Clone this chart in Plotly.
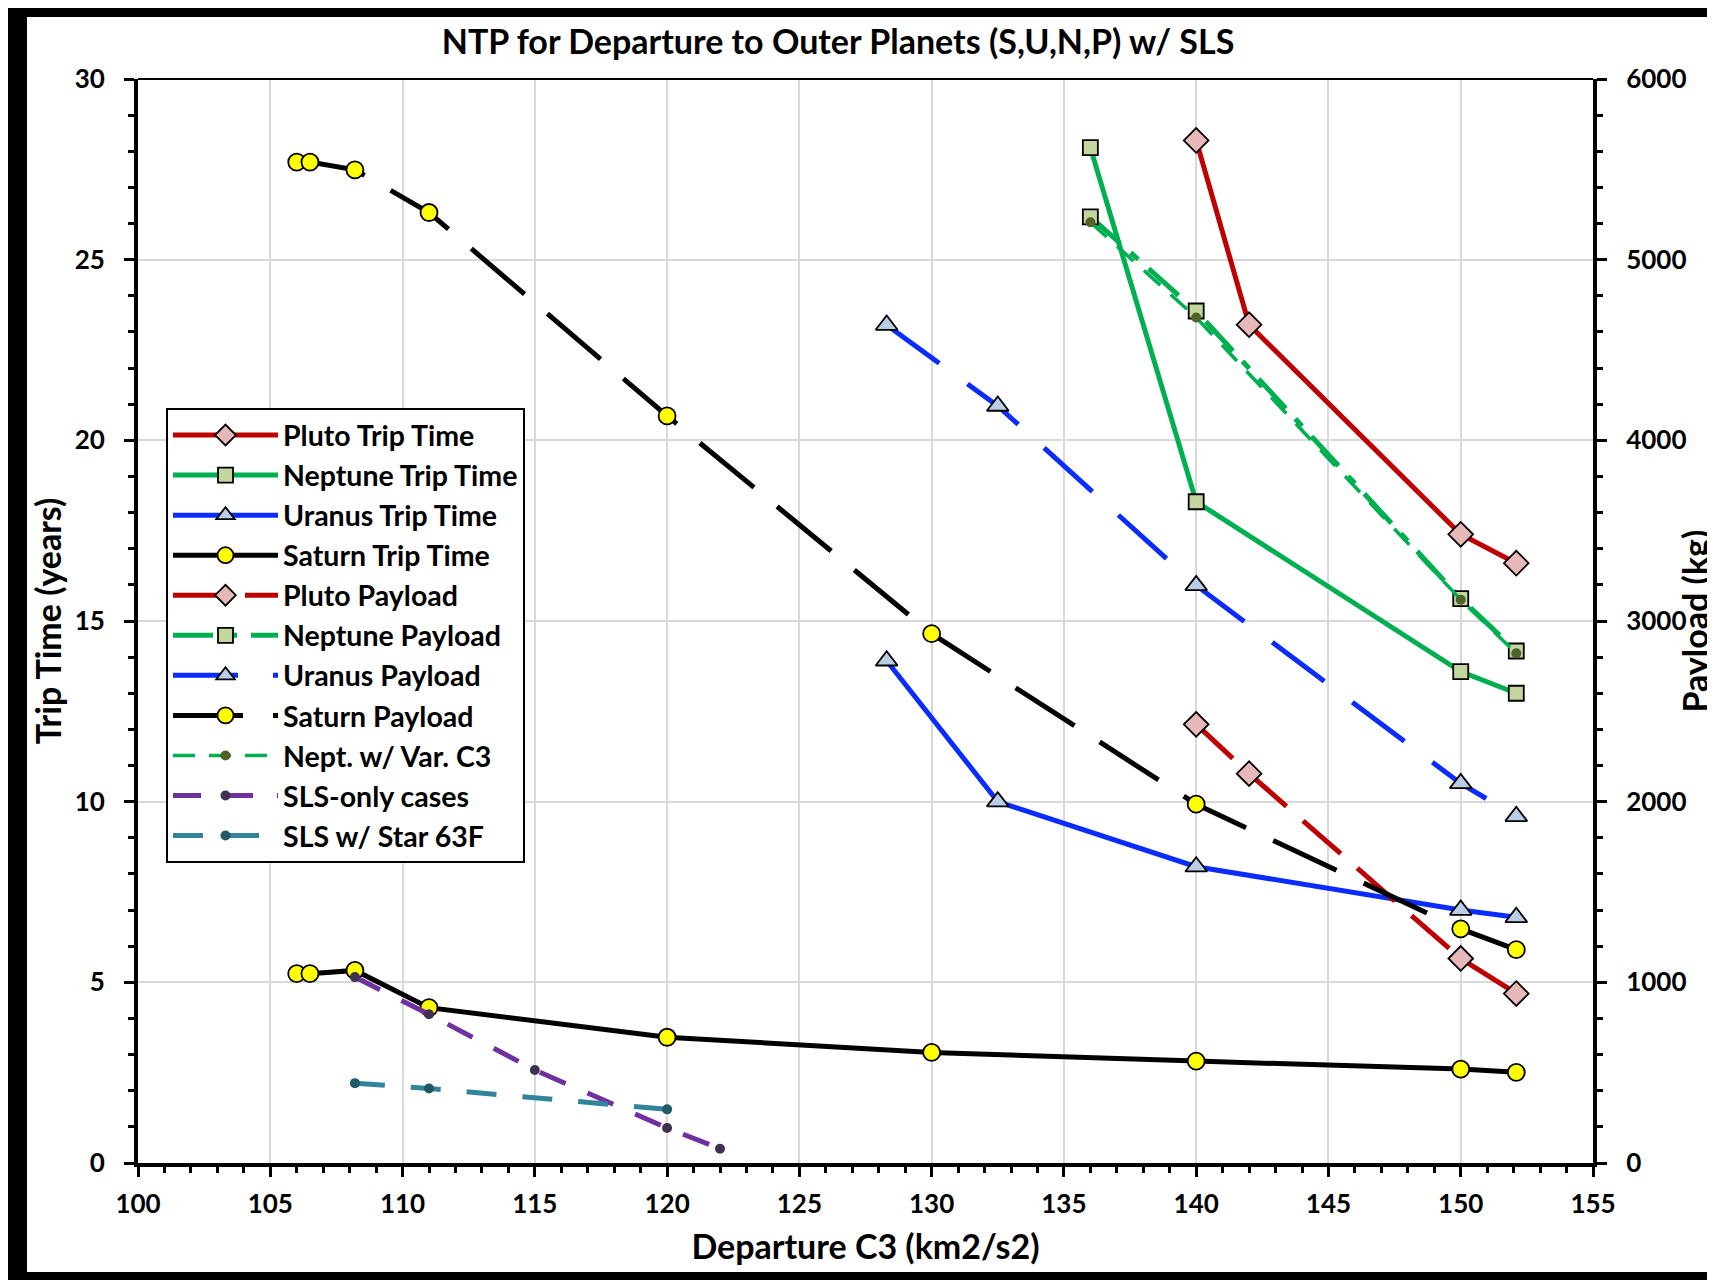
import plotly.graph_objects as go

# ---- data ----
c3_saturn = [106.0, 106.5, 108.2, 111.0, 120.0, 130.0, 140.0, 150.0, 152.1]
saturn_trip = [5.24, 5.24, 5.33, 4.30, 3.48, 3.06, 2.82, 2.60, 2.51]
saturn_payload = [5540, 5540, 5497, 5261, 4135, 2930, 1986, 1296, 1181]

c3_uranus = [128.3, 132.5, 140.0, 150.0, 152.1]
uranus_trip = [13.9, 10.0, 8.2, 7.0, 6.8]
uranus_payload = [4638, 4190, 3197, 2101, 1919]

c3_neptune = [136.0, 140.0, 150.0, 152.1]
neptune_trip = [28.1, 18.3, 13.6, 13.0]
neptune_payload = [5237, 4716, 3124, 2834]
nept_var_payload = [5207, 4680, 3118, 2821]

c3_pluto = [140.0, 142.0, 150.0, 152.1]
pluto_trip = [28.3, 23.2, 17.4, 16.6]
pluto_payload = [2428, 2155, 1132, 938]

c3_sls_only = [108.2, 111.0, 115.0, 120.0, 122.0]
sls_only_payload = [1029, 823, 515, 194, 79]

c3_star63f = [108.2, 111.0, 120.0]
star63f_payload = [442, 412, 297]

x_ticks = list(range(100, 156, 5))

FONT = "Lato, 'Open Sans', sans-serif"

RED, GREEN, BLUE, BLACK = "#c00000", "#00b050", "#0a2cff", "#000000"
PURPLE, TEAL, OLIVE = "#7030a0", "#31849b", "#4f6228"

fig = go.Figure()


def add(name, x, y, color, symbol, fill, size, dash="solid", axis="y", lw=5, mline=1.8):
    fig.add_trace(go.Scatter(
        x=x, y=y, name=name, yaxis=axis, mode="lines+markers",
        legendgroup=name,
        line=dict(color=color, width=lw, dash=dash),
        marker=dict(symbol=symbol, color=fill, size=size,
                    line=dict(color="black" if mline else fill, width=mline)),
    ))


add("Pluto Trip Time", c3_pluto, pluto_trip, RED, "diamond", "#e6b9b8", 19)
add("Neptune Trip Time", c3_neptune, neptune_trip, GREEN, "square", "#c3d69b", 15)
add("Uranus Trip Time", c3_uranus, uranus_trip, BLUE, "triangle-up", "#b9cde5", 19)
add("Saturn Trip Time", c3_saturn, saturn_trip, BLACK, "circle", "#ffff00", 17)
add("Pluto Payload", c3_pluto, pluto_payload, RED, "diamond", "#e6b9b8", 19,
    dash="50px,22px", axis="y2")
add("Neptune Payload", c3_neptune, neptune_payload, GREEN, "square", "#c3d69b", 15,
    dash="40px,14px,10px,14px", axis="y2")
add("Uranus Payload", c3_uranus, uranus_payload, BLUE, "triangle-up", "#b9cde5", 19,
    dash="65px,35px", axis="y2")
add("Saturn Payload", c3_saturn, saturn_payload, BLACK, "circle", "#ffff00", 17,
    dash="70px,30px", axis="y2")
add("Nept. w/ Var. C3", c3_neptune, nept_var_payload, GREEN, "circle", OLIVE, 10,
    dash="22px,14px", axis="y2", lw=3.5, mline=0)
add("SLS-only cases", c3_sls_only, sls_only_payload, PURPLE, "circle", "#403152", 10,
    dash="28px,24px", axis="y2", lw=5, mline=0)
add("SLS w/ Star 63F", c3_star63f, star63f_payload, TEAL, "circle", "#215967", 10,
    dash="30px,26px", axis="y2", lw=5, mline=0)

# the page body has an 8 px margin; figure coordinates = page coordinates - 8
W, H = 1707, 1272
PL, PR, PT, PB = 130, 1585, 71, 1155
L, R, T, B = PL, W - PR, PT, H - PB

axis_common = dict(
    showline=True, linecolor="black", linewidth=4,
    ticks="outside", ticklen=10, tickwidth=3, tickcolor="black",
    tickfont=dict(family=FONT, size=26, color="black", weight="bold"),
    zeroline=False,
)

fig.update_layout(
    width=W, height=H,
    margin=dict(l=L, r=R, t=T, b=B, autoexpand=False),
    paper_bgcolor="white", plot_bgcolor="white",
    font=dict(family=FONT, size=26, color="black", weight="bold"),
    title=dict(text="NTP for Departure to Outer Planets (S,U,N,P) w/ SLS",
               x=830 / W, xanchor="center", y=1 - 34 / H, yanchor="middle",
               font=dict(family=FONT, size=34, color="black", weight="bold")),
    xaxis=dict(range=[100, 155], tickvals=x_ticks,
               showgrid=True, gridcolor="#d9d9d9", gridwidth=1.5,
               minor=dict(dtick=1, ticks="outside", ticklen=6, tickwidth=3,
                          tickcolor="black", showgrid=False),
               ticklabelstandoff=5,
               title=dict(text="Departure C3 (km2/s2)", standoff=18,
                          font=dict(family=FONT, size=34, color="black", weight="bold")),
               **axis_common),
    yaxis=dict(range=[0, 30], dtick=5,
               showgrid=True, gridcolor="#d9d9d9", gridwidth=1.5,
               minor=dict(dtick=1, ticks="outside", ticklen=6, tickwidth=3,
                          tickcolor="black", showgrid=False),
               ticklabelstandoff=14,
               title=dict(text="Trip Time (years)", standoff=4,
                          font=dict(family=FONT, size=34, color="black", weight="bold")),
               **axis_common),
    yaxis2=dict(range=[0, 6000], dtick=1000, overlaying="y", side="right",
                showgrid=False,
                minor=dict(dtick=200, ticks="outside", ticklen=6, tickwidth=3,
                           tickcolor="black", showgrid=False),
                ticklabelstandoff=14,
                title=dict(text="Payload (kg)", standoff=78,
                           font=dict(family=FONT, size=34, color="black", weight="bold")),
                **axis_common),
    legend=dict(x=(158 - PL) / (PR - PL), y=(PB - 400) / (PB - PT),
                xanchor="left", yanchor="top",
                bgcolor="white", bordercolor="black", borderwidth=2,
                font=dict(family=FONT, size=28.5, color="black", weight="bold"),
                itemwidth=105, tracegroupgap=0, traceorder="grouped"),
    showlegend=True,
)

# top border line of the plot area
fig.add_shape(type="line", xref="paper", yref="paper", x0=0, x1=1, y0=1, y1=1,
              line=dict(color="black", width=2))


def px2paper_x(px):
    return (px - PL) / (PR - PL)


def px2paper_y(py):
    return (PB - py) / (PB - PT)


# black screenshot frame (top, left, bottom)
for x0, y0, x1, y1 in [(-5, -5, W + 5, 9), (-5, -5, 19, H + 5), (-5, 1264, W + 5, H + 5)]:
    fig.add_shape(type="rect", xref="paper", yref="paper",
                  x0=px2paper_x(x0), x1=px2paper_x(x1),
                  y0=px2paper_y(y0), y1=px2paper_y(y1),
                  fillcolor="black", line=dict(width=0), layer="above")

fig.write_html("out.html")
